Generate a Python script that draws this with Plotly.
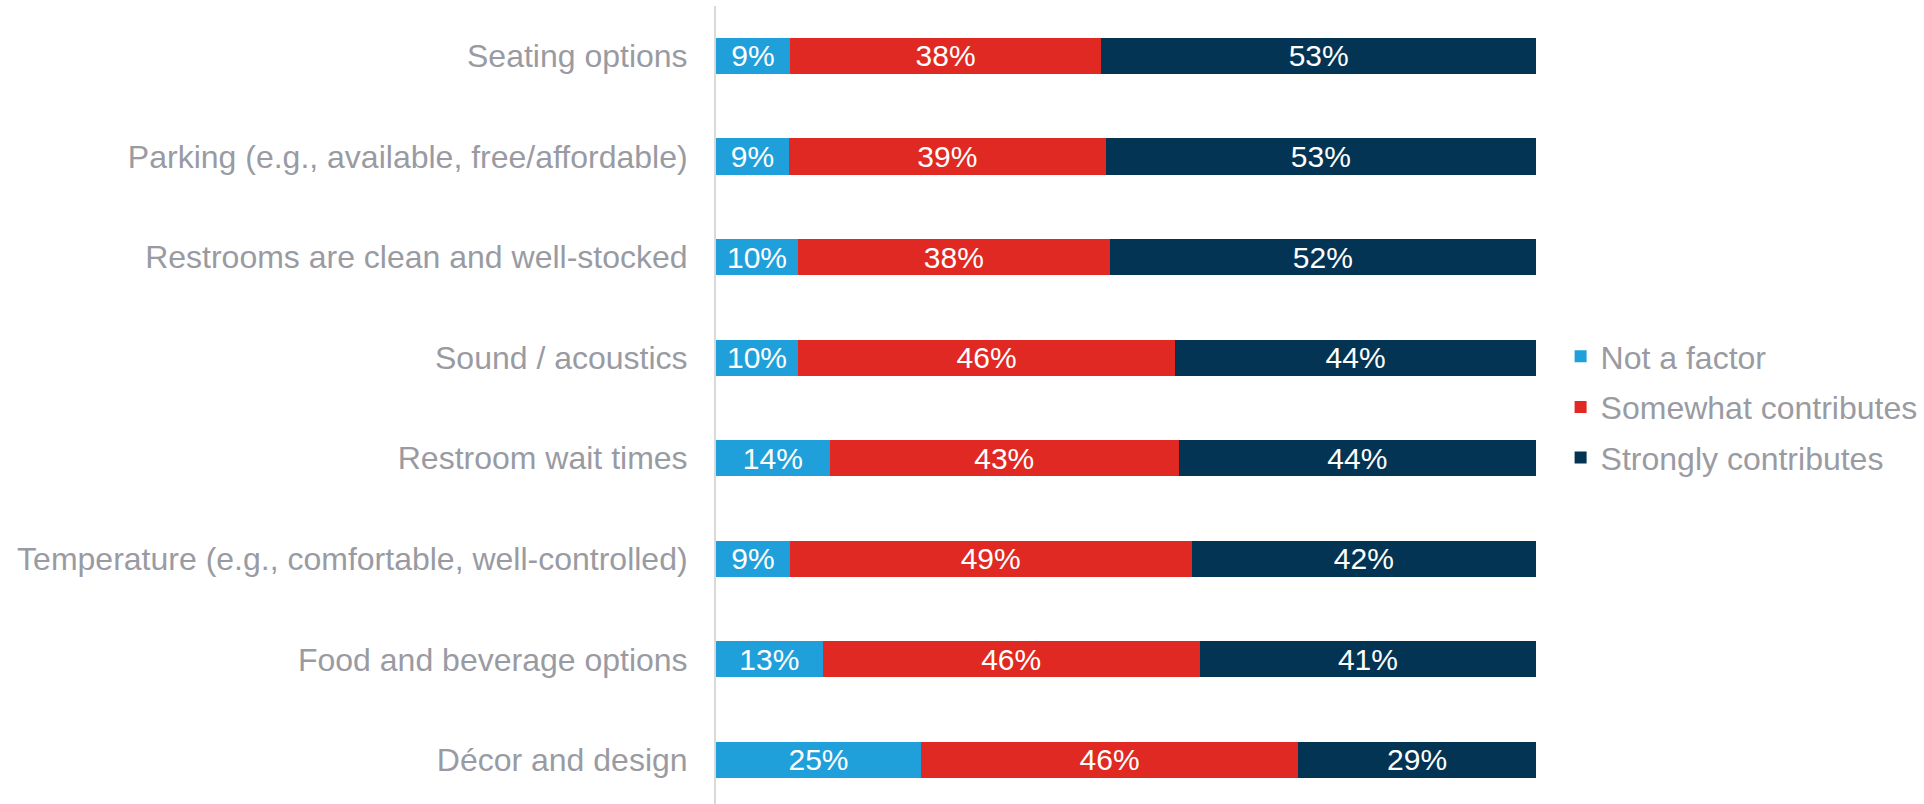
import plotly.graph_objects as go

categories = [
    "Seating options",
    "Parking (e.g., available, free/affordable)",
    "Restrooms are clean and well-stocked",
    "Sound / acoustics",
    "Restroom wait times",
    "Temperature (e.g., comfortable, well-controlled)",
    "Food and beverage options",
    "Décor and design",
]
not_a_factor = [9, 9, 10, 10, 14, 9, 13, 25]
somewhat = [38, 39, 38, 46, 43, 49, 46, 46]
strongly = [53, 53, 52, 44, 44, 42, 41, 29]

series = [
    ("Not a factor", not_a_factor, "#1fa0db"),
    ("Somewhat contributes", somewhat, "#e02922"),
    ("Strongly contributes", strongly, "#033453"),
]

FONT = "Liberation Sans, Arial, sans-serif"
GRAY = "#9a9ba2"

fig = go.Figure()
for name, vals, color in series:
    fig.add_trace(go.Bar(
        y=categories, x=vals, name=name, orientation="h",
        marker=dict(color=color, line=dict(width=0)),
        text=[f"{v}%" for v in vals], textposition="inside",
        insidetextanchor="middle", textangle=0,
        textfont=dict(color="white", size=30, family=FONT),
        legendgroup=name, width=0.36,
    ))

fig.update_layout(
    barmode="stack", barnorm="percent",
    width=1924, height=804,
    margin=dict(l=716, r=388, t=6, b=0, autoexpand=False),
    paper_bgcolor="white", plot_bgcolor="white",
    font=dict(family=FONT, size=32, color=GRAY),
    uniformtext=dict(minsize=30, mode="show"),
    xaxis=dict(range=[0, 100], visible=False, fixedrange=True),
    yaxis=dict(categoryorder="array", categoryarray=categories,
               range=[7.438, -0.497], showline=True, linecolor="#d9d9d9",
               linewidth=2, ticks="", ticklabelstandoff=20,
               tickfont=dict(size=32, color=GRAY, family=FONT),
               showgrid=False, zeroline=False),
    legend=dict(x=1.03, xanchor="left", y=0.4975, yanchor="middle",
                traceorder="grouped", tracegroupgap=6,
                font=dict(size=32, color=GRAY, family=FONT)),
    showlegend=True,
)

fig.write_html("out.html")
